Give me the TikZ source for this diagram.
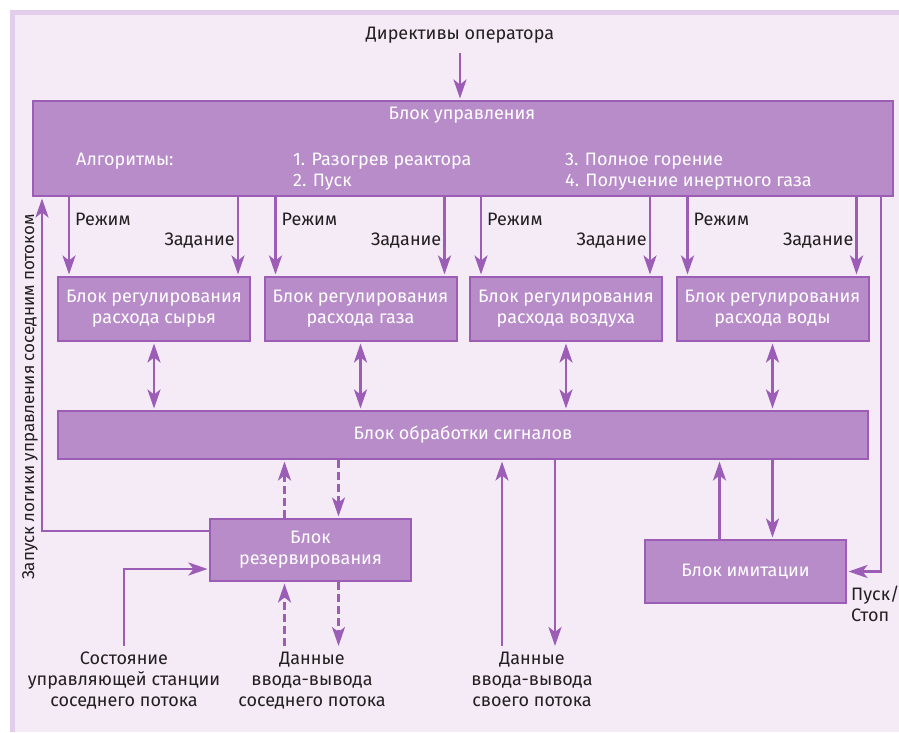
\documentclass[tikz,border=0pt]{standalone}
\usepackage{fontspec}
\setmainfont{Fira Sans}
\usetikzlibrary{arrows.meta}
\definecolor{bgc}{HTML}{F4EBF7}
\definecolor{frc}{HTML}{E2CEEB}
\definecolor{blk}{HTML}{B78CC9}
\definecolor{bdr}{HTML}{9C5DB6}
\definecolor{txt}{HTML}{231F20}
\begin{document}
\begin{tikzpicture}[x=1pt,y=-1pt,
  font=\fontsize{18}{21}\selectfont,
  tip/.tip={Stealth[length=19pt,width=13pt,inset=5pt]},
  block/.style={draw=bdr, line width=2pt, fill=blk, text=white, inner sep=0, align=center},
  intext/.style={text=white, inner sep=0},
  lbl/.style={text=txt, inner sep=0, align=center},
  arr/.style={draw=bdr, line width=2.8pt, -tip, shorten >=1.5pt},
  darr/.style={draw=bdr, line width=2.8pt, tip-tip, shorten >=1.5pt, shorten <=1.5pt},
  dsh/.style={arr, dash pattern=on 8pt off 4pt}]
\useasboundingbox (0,0) rectangle (899,733);
\fill[frc] (10,10) rectangle (910,732);
\fill[bgc] (15,15) rectangle (910,732);

% top directive
\node[lbl] (dir) at (460,35) {Директивы оператора};

% control block
\node[block, minimum width=860, minimum height=95] (ctrl) at (463,148.5) {};
\node[intext] (ctitle) at (462,115) {Блок управления};
\node[intext, anchor=west] (alg) at (76,161) {Алгоритмы:};
\node[intext, anchor=north west, align=left] (a12) at (293,153) {1. Разогрев реактора\\2. Пуск};
\node[intext, anchor=north west, align=left] (a34) at (565,153) {3. Полное горение\\4. Получение инертного газа};

\draw[arr, shorten <=10pt] (dir.south) -- (ctrl.north -| dir.south);

% regulation blocks
\node[block, minimum width=192, minimum height=64] (r1) at (154,309) {Блок регулирования\\расхода сырья};
\node[block, minimum width=192, minimum height=64] (r2) at (360.5,309) {Блок регулирования\\расхода газа};
\node[block, minimum width=192, minimum height=64] (r3) at (566,309) {Блок регулирования\\расхода воздуха};
\node[block, minimum width=192, minimum height=64] (r4) at (772.5,309) {Блок регулирования\\расхода воды};

\foreach \r in {r1,r2,r3,r4}{
  \coordinate (\r m) at ([xshift=12]\r.north west);
  \coordinate (\r z) at ([xshift=-13]\r.north east);
  \draw[arr] (ctrl.south -| \r m) -- (\r m);
  \draw[arr] (ctrl.south -| \r z) -- (\r z);
  \node[lbl, anchor=west] (\r lm) at ([xshift=6,yshift=57]\r m) {Режим};
  \node[lbl, anchor=east] (\r lz) at ([xshift=-3,yshift=35]\r z) {Задание};
}

% signal block
\node[block, minimum width=810, minimum height=48] (sig) at (463,435) {Блок обработки сигналов};
\foreach \r in {r1,r2,r3,r4}{
  \draw[darr] (\r.south) -- (sig.north -| \r.south);
}

% reserve block
\node[block, minimum width=201, minimum height=62] (res) at (310.5,550) {Блок\\резервирования};
\coordinate (ru) at ([xshift=-26]res.north);
\coordinate (rd) at ([xshift=28]res.north);
\draw[dsh] (ru) -- (sig.south -| ru);
\draw[dsh] (sig.south -| rd) -- (rd);

% imitation block
\node[block, minimum width=201, minimum height=63] (imi) at (745.5,571.5) {Блок имитации};
\coordinate (iu) at ([xshift=-26]imi.north);
\coordinate (id) at ([xshift=27]imi.north);
\draw[arr] (iu) -- (sig.south -| iu);
\draw[arr] (sig.south -| id) -- (id);

% Pusk/Stop line
\draw[arr] ([xshift=-13]ctrl.south east) |- (imi.east);
\node[lbl, anchor=north west, align=left] (ps) at (851,586) {Пуск/\\Стоп};

% left launch line
\coordinate (lt) at ([xshift=10]ctrl.south west);
\draw[arr] ([yshift=-13]res.north west) -| (lt);
\node[lbl, rotate=90, font=\fontsize{17}{20}\selectfont] (zap) at (30,397) {Запуск логики управления соседним потоком};

% bottom labels
\node[lbl, anchor=north] (st) at (124,652) {Состояние\\управляющей станции\\соседнего потока};
\draw[arr, shorten <=6pt] (st.north) |- ([yshift=-19]res.west);

\node[lbl, anchor=north] (dn) at (312,652) {Данные\\ввода-вывода\\соседнего потока};
\draw[dsh, shorten <=6pt] (dn.north -| ru) -- (res.south -| ru);
\draw[dsh, shorten >=6pt] (res.south -| rd) -- (dn.north -| rd);

\node[lbl, anchor=north] (do) at (532,652) {Данные\\ввода-вывода\\своего потока};
\coordinate (ou) at (502,0);
\coordinate (od) at (555,0);
\draw[arr, shorten <=6pt] (do.north -| ou) -- (sig.south -| ou);
\draw[arr, shorten >=6pt] (sig.south -| od) -- (do.north -| od);
\end{tikzpicture}
\end{document}
